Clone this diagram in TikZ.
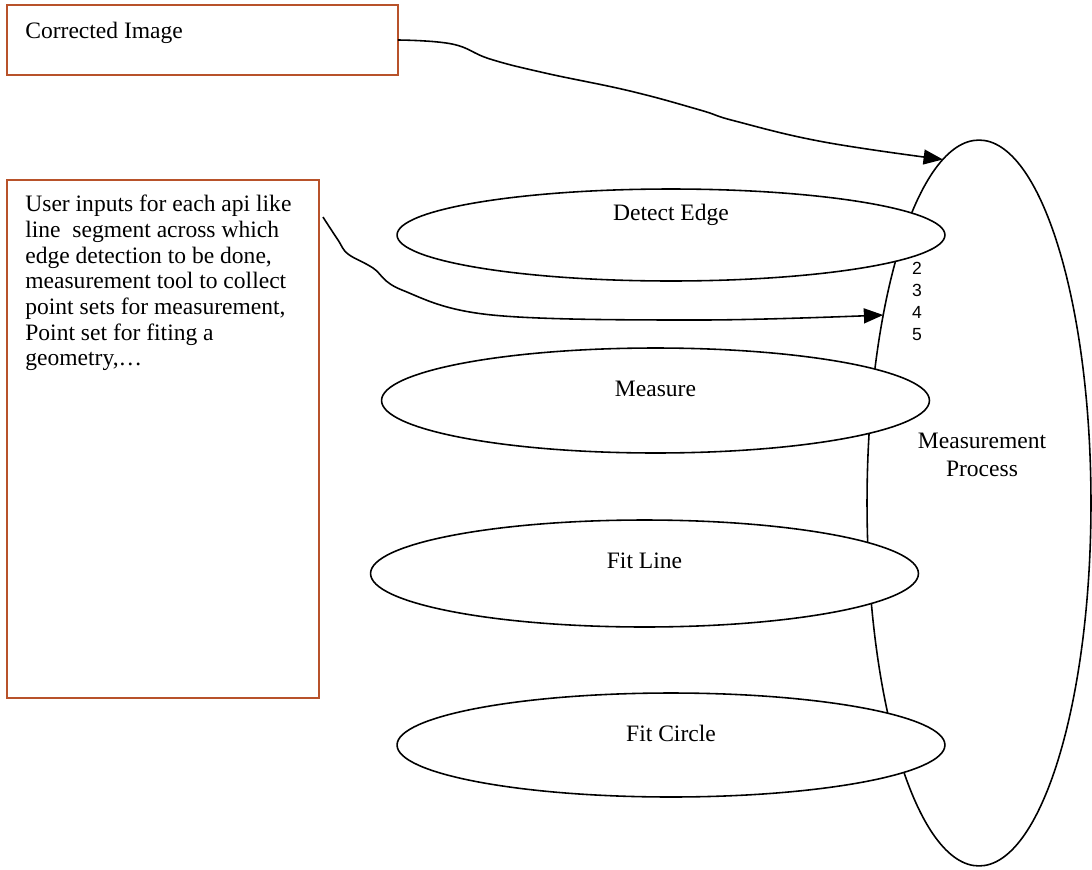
\documentclass[tikz,border=0pt]{standalone}
\usepackage{fontspec}
\setmainfont{Liberation Serif}
\newfontfamily\digitfont{Liberation Sans}
\usetikzlibrary{shapes.geometric,arrows.meta,calc}
\definecolor{boxbrown}{RGB}{184,82,42}
\begin{document}
\begin{tikzpicture}[x=0.02cm,y=-0.02cm,
  infobox/.style={draw=boxbrown,line width=1.2pt,fill=white,rectangle,inner sep=0pt,outer sep=0pt},
  task/.style={draw,ellipse,line width=0.9pt,fill=white,inner sep=0pt,outer sep=0pt,
               minimum width=10.96cm},
  bodyfont/.style={font=\fontsize{13.4}{14.6}\selectfont},
  boxtext/.style={bodyfont,align=left,inner sep=0pt},
  tasklabel/.style={bodyfont,inner sep=0pt},
  flow/.style={line width=0.9pt,-{Triangle[length=11pt,width=8.5pt]}},
]
\useasboundingbox (0,0) rectangle (1092,869);

% the enclosing process
\node[draw,ellipse,line width=0.9pt,inner sep=0pt,outer sep=0pt,
      minimum width=4.48cm,minimum height=14.52cm,
      label={[tasklabel,align=center,font=\fontsize{13.4}{15.9}\selectfont,xshift=0.06cm,yshift=0.96cm]center:Measurement\\Process}]
      (mp) at (979,503) {};

% the individual api steps
\node[task,minimum height=1.84cm,label={[tasklabel,yshift=0.4cm]center:Detect Edge}] (de) at (671,235) {};
\node[task,minimum height=2.1cm,label={[tasklabel,yshift=0.24cm]center:Measure}] (me) at (655.5,400.5) {};
\node[task,minimum height=2.14cm,label={[tasklabel,yshift=0.26cm]center:Fit Line}] (fl) at (644.5,573.5) {};
\node[task,minimum height=2.08cm,label={[tasklabel,yshift=0.24cm]center:Fit Circle}] (fc) at (671,745) {};

% step numbers
\node[font=\digitfont\fontsize{10}{12.5}\selectfont,align=center,inner sep=0pt] (nums) at (917,301.5) {2\\3\\4\\5};

% inputs
\node[infobox,minimum width=7.82cm,minimum height=1.4cm] (ci) at (202.5,40) {};
\node[boxtext,anchor=base west] (citext) at (25,38) {Corrected Image};

\node[infobox,minimum width=6.24cm,minimum height=10.36cm] (ui) at (163,439) {};
\node[boxtext,anchor=north west] (uitext) at (25,195) {User inputs for each api like\\
line~ segment across which\\
edge detection to be done,\\
measurement tool to collect\\
point sets for measurement,\\
Point set for fiting a\\
geometry,\ldots};

% connectors
\draw[flow] plot[smooth,tension=0.7] coordinates {(ci.east) (452,44) (490,59) (545,73) (630,91) (700,110) (735,121) (824,142) (mp.96.1)};
\draw[flow] plot[smooth,tension=0.6] coordinates {($(ui.north east)+(4,37)$) (338,240) (348,254) (373,268) (402,290) (492,315) (700,320) (mp.117.7)};
\end{tikzpicture}
\end{document}
